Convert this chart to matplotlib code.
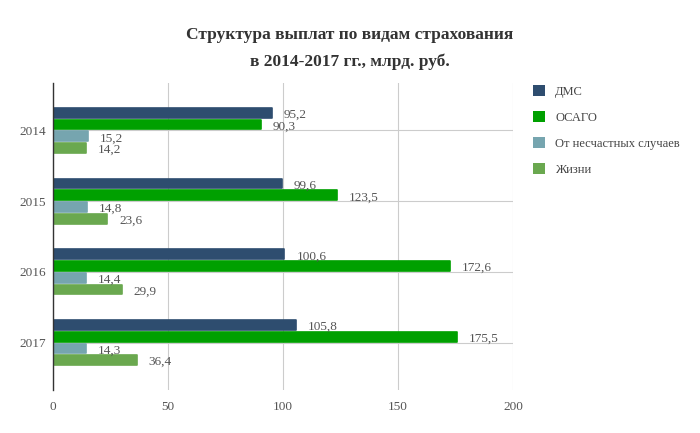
import numpy as np
import matplotlib.pyplot as plt
from matplotlib.patches import Patch

plt.rcParams['font.family'] = ['Liberation Serif', 'DejaVu Serif']

years = ['2014', '2015', '2016', '2017']
series_names = ['ДМС', 'ОСАГО', 'От несчастных случаев', 'Жизни']
dms = [95.2, 99.6, 100.6, 105.8]
osago = [90.3, 123.5, 172.6, 175.5]
accidents = [15.2, 14.8, 14.4, 14.3]
life = [14.2, 23.6, 29.9, 36.4]
colors = ['#2e4d6f', '#00a000', '#76a5af', '#6aa84f']

fig = plt.figure(figsize=(7, 4.33), dpi=100)
ax = fig.add_axes([0.0757, 0.0993, 0.657, 0.709])

y = np.arange(len(years))
pitch = 0.166
height = 0.135
text_col = '#555555'

for i, (vals, col) in enumerate(zip([dms, osago, accidents, life], colors)):
    pos = y + (i - 1.5) * pitch
    ax.barh(pos, vals, height=height, color=col, edgecolor=col, linewidth=1.2,
            joinstyle='round', zorder=3)
    for p, v in zip(pos, vals):
        ax.annotate(f'{v:.1f}'.replace('.', ','), xy=(v, p), xytext=(12, -2),
                    textcoords='offset pixels',
                    va='center', ha='left', fontsize=9.5, color=text_col, zorder=4)

ax.set_xlim(0, 200)
ax.set_ylim(3.67, -0.67)
ax.set_xticks([0, 50, 100, 150, 200])
ax.set_yticks(y)
ax.set_yticklabels(years)
ax.tick_params(axis='both', length=0, labelsize=9.5, labelcolor=text_col)
ax.tick_params(axis='x', pad=8)
ax.tick_params(axis='y', pad=5)
ax.grid(True, color='#cccccc', linewidth=0.8, zorder=0)
for s in ['top', 'right', 'bottom']:
    ax.spines[s].set_visible(False)
ax.spines['left'].set_color('#333333')
ax.spines['left'].set_linewidth(1.0)
ax.spines['left'].set_zorder(5)

handles = [Patch(facecolor=c, edgecolor='none') for c in colors]
fig.legend(handles, series_names, loc='upper left', bbox_to_anchor=(0.745, 0.83),
           frameon=False, fontsize=9, handlelength=1.0, handleheight=1.0,
           handletextpad=0.8, labelspacing=1.05, labelcolor='#444444')

fig.text(0.5, 0.92, 'Структура выплат по видам страхования', ha='center', va='center',
         fontsize=12.5, fontweight='bold', color='#333333')
fig.text(0.5, 0.858, 'в 2014-2017 гг., млрд. руб.', ha='center', va='center',
         fontsize=12.5, fontweight='bold', color='#333333')

fig.savefig('out.png', dpi=100)
